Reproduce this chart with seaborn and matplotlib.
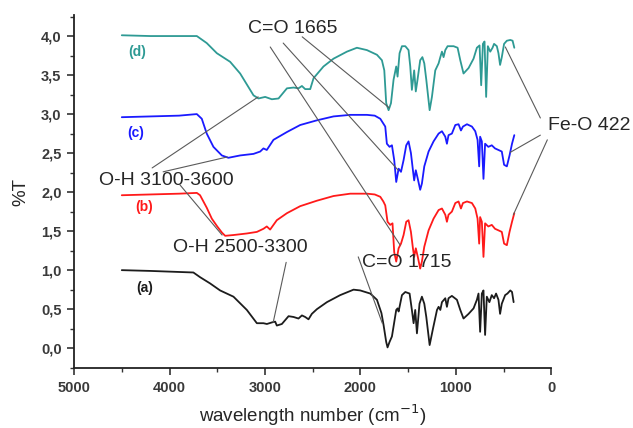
import matplotlib
matplotlib.use("Agg")
import matplotlib.pyplot as plt
import seaborn as sns
from matplotlib.ticker import MultipleLocator, FuncFormatter

# wavenumber / %T values (offset stacked)
wn_a = [4500, 4200, 3750, 3680, 3575, 3470, 3330, 3190, 3085, 3016, 2980, 2928, 2893, 2876, 2823,
        2753, 2701, 2649, 2613, 2579, 2544, 2509, 2456, 2351, 2212, 2072, 2002, 1897, 1827, 1780,
        1758, 1730, 1716, 1695, 1670, 1625, 1611, 1600, 1565, 1530, 1485, 1461, 1443, 1426, 1408,
        1381, 1356, 1331, 1310, 1275, 1240, 1198, 1181, 1163, 1146, 1111, 1094, 1077, 1042, 989,
        954, 920, 867, 815, 780, 763, 746, 728, 711, 694, 676, 649, 624, 600, 579, 554, 537, 519,
        484, 460, 430, 412, 395]
t_a = [1.00, 0.99, 0.97, 0.91, 0.83, 0.74, 0.66, 0.49, 0.32, 0.32, 0.31, 0.33, 0.34, 0.29, 0.31,
       0.41, 0.40, 0.38, 0.42, 0.40, 0.37, 0.44, 0.50, 0.59, 0.68, 0.75, 0.74, 0.70, 0.62, 0.45,
       0.30, 0.08, 0.01, 0.08, 0.15, 0.49, 0.51, 0.47, 0.68, 0.72, 0.70, 0.49, 0.32, 0.49, 0.19,
       0.57, 0.66, 0.57, 0.40, 0.04, 0.25, 0.49, 0.53, 0.49, 0.59, 0.64, 0.53, 0.64, 0.67, 0.62,
       0.49, 0.38, 0.44, 0.51, 0.62, 0.70, 0.21, 0.70, 0.74, 0.17, 0.66, 0.59, 0.68, 0.64, 0.70,
       0.62, 0.44, 0.57, 0.68, 0.70, 0.74, 0.72, 0.59]

wn_b = [4500, 4200, 3900, 3714, 3680, 3645, 3610, 3557, 3500, 3450, 3417, 3330, 3190, 3085, 3016,
        2981, 2946, 2876, 2770, 2631, 2456, 2282, 2107, 1932, 1850, 1792, 1760, 1740, 1716, 1688,
        1664, 1646, 1625, 1600, 1575, 1548, 1520, 1496, 1471, 1450, 1437, 1420, 1399, 1374, 1356,
        1331, 1286, 1234, 1181, 1146, 1111, 1094, 1077, 1042, 1006, 972, 947, 926, 884, 832, 797,
        773, 756, 746, 728, 711, 694, 660, 624, 590, 554, 519, 495, 466, 438, 412, 388]
t_b = [1.96, 1.97, 1.98, 1.99, 1.96, 1.88, 1.80, 1.66, 1.56, 1.48, 1.44, 1.45, 1.47, 1.49, 1.53,
       1.56, 1.52, 1.64, 1.73, 1.82, 1.89, 1.95, 1.98, 1.98, 1.97, 1.94, 1.88, 1.83, 1.62, 1.58,
       1.60, 1.23, 1.11, 1.28, 1.34, 1.45, 1.62, 1.64, 1.49, 1.28, 1.17, 1.28, 1.17, 1.02, 1.11,
       1.30, 1.51, 1.66, 1.77, 1.79, 1.71, 1.62, 1.71, 1.75, 1.86, 1.88, 1.79, 1.86, 1.88, 1.86, 1.79,
       1.66, 1.34, 1.68, 1.62, 1.17, 1.60, 1.56, 1.58, 1.53, 1.51, 1.49, 1.34, 1.32, 1.49, 1.62, 1.73]

wn_c = [4500, 4200, 3900, 3714, 3662, 3610, 3540, 3452, 3383, 3260, 3120, 3050, 3016, 2981, 2911,
        2770, 2631, 2456, 2282, 2107, 1932, 1850, 1792, 1740, 1723, 1695, 1670, 1646, 1625, 1600,
        1575, 1548, 1520, 1496, 1471, 1450, 1437, 1420, 1399, 1374, 1356, 1331, 1286, 1234, 1181,
        1146, 1111, 1094, 1077, 1042, 1006, 972, 947, 926, 884, 832, 797, 773, 756, 746, 728, 711,
        694, 660, 624, 590, 554, 519, 495, 466, 438, 412, 388]
t_c = [2.96, 2.97, 2.98, 3.00, 2.94, 2.75, 2.58, 2.47, 2.44, 2.47, 2.49, 2.52, 2.56, 2.54, 2.67,
       2.77, 2.86, 2.92, 2.97, 2.99, 2.99, 2.98, 2.94, 2.84, 2.62, 2.58, 2.60, 2.41, 2.13, 2.30,
       2.26, 2.41, 2.60, 2.65, 2.50, 2.28, 2.15, 2.28, 2.17, 2.03, 2.11, 2.33, 2.52, 2.65, 2.75,
       2.78, 2.71, 2.62, 2.73, 2.75, 2.86, 2.87, 2.79, 2.84, 2.87, 2.84, 2.78, 2.67, 2.33, 2.71,
       2.65, 2.17, 2.62, 2.58, 2.60, 2.56, 2.54, 2.52, 2.35, 2.33, 2.47, 2.62, 2.73]

wn_d = [4500, 4200, 3900, 3714, 3610, 3504, 3365, 3260, 3120, 3068, 2998, 2928, 2858, 2770, 2701,
        2649, 2613, 2579, 2526, 2491, 2387, 2282, 2142, 2037, 1932, 1827, 1775, 1750, 1730, 1705,
        1680, 1653, 1625, 1611, 1590, 1565, 1530, 1496, 1478, 1461, 1437, 1420, 1402, 1374, 1351,
        1331, 1310, 1275, 1251, 1216, 1181, 1163, 1146, 1129, 1111, 1087, 1024, 982, 954, 920, 867,
        815, 780, 752, 735, 717, 700, 683, 665, 640, 616, 600, 571, 554, 537, 519, 495, 466, 430,
        406, 388]
t_d = [4.01, 4.00, 4.00, 4.00, 3.91, 3.78, 3.67, 3.52, 3.24, 3.20, 3.22, 3.19, 3.20, 3.33, 3.34,
       3.33, 3.36, 3.32, 3.32, 3.46, 3.61, 3.71, 3.80, 3.85, 3.82, 3.76, 3.69, 3.56, 3.14, 3.05,
       3.14, 3.44, 3.61, 3.48, 3.78, 3.87, 3.87, 3.82, 3.61, 3.31, 3.56, 3.29, 3.44, 3.69, 3.73,
       3.65, 3.44, 3.05, 3.22, 3.56, 3.65, 3.73, 3.80, 3.73, 3.82, 3.87, 3.87, 3.85, 3.69, 3.52, 3.59,
       3.71, 3.85, 3.88, 3.37, 3.90, 3.93, 3.22, 3.87, 3.80, 3.85, 3.90, 3.87, 3.78, 3.63, 3.73,
       3.90, 3.94, 3.95, 3.94, 3.85]

curve_labels = ["(a)", "(b)", "(c)", "(d)"]
curve_colors = ["#1c1c1c", "#ff1a1a", "#1a1aff", "#2e9a94"]

sns.set_style("ticks")
plt.rcParams["font.family"] = ["Liberation Sans", "DejaVu Sans"]

fig = plt.figure(figsize=(6.33, 4.28), dpi=100)
ax = fig.add_axes([0.117, 0.140, 0.754, 0.825])

for wn, t, col in zip([wn_a, wn_b, wn_c, wn_d], [t_a, t_b, t_c, t_d], curve_colors):
    sns.lineplot(x=wn, y=t, color=col, lw=1.3, sort=False, estimator=None, ax=ax)

# curve tags
tag_pos = [(4256, 0.77), (4266, 1.81), (4350, 2.76), (4340, 3.79)]
for (x, y), lab, col in zip(tag_pos, curve_labels, curve_colors):
    ax.text(x, y, lab, color=col, fontsize=10, fontweight="bold", ha="center", va="center")

# band annotations with leader lines
lc = "#5a5a5a"
ax.text(3176, 4.10, "C=O 1665", fontsize=14, ha="left", va="center")
for x0, y0, x1, y1 in [(2610, 3.99, 1698, 3.08), (2809, 3.91, 1604, 2.28), (2945, 3.86, 1583, 1.32)]:
    ax.plot([x0, x1], [y0, y1], color=lc, lw=0.8)

ax.text(4738, 2.15, "O-H 3100-3600", fontsize=14, ha="left", va="center")
for x0, y0, x1, y1 in [(4182, 2.31, 3071, 3.22), (4067, 2.26, 3396, 2.45), (3889, 2.09, 3449, 1.45)]:
    ax.plot([x0, x1], [y0, y1], color=lc, lw=0.8)

ax.text(3962, 1.29, "O-H 2500-3300", fontsize=14, ha="left", va="center")
ax.plot([2778, 2914], [1.10, 0.33], color=lc, lw=0.8)

ax.text(1981, 1.10, "C=O 1715", fontsize=14, ha="left", va="center")
ax.plot([2023, 1771], [1.17, 0.32], color=lc, lw=0.8)

ax.text(31, 2.86, "Fe-O 422", fontsize=14, ha="left", va="center", clip_on=False)
for x0, y0, x1, y1 in [(115, 2.95, 482, 3.86), (115, 2.73, 430, 2.51), (42, 2.67, 398, 1.71)]:
    ax.plot([x0, x1], [y0, y1], color=lc, lw=0.8, clip_on=False)

ax.set_xlim(5000, 0)
ax.set_ylim(-0.255, 4.27)
ax.xaxis.set_major_locator(MultipleLocator(1000))
ax.xaxis.set_minor_locator(MultipleLocator(500))
ax.yaxis.set_major_locator(MultipleLocator(0.5))
ax.yaxis.set_minor_locator(MultipleLocator(0.25))
ax.yaxis.set_major_formatter(FuncFormatter(lambda v, p: f"{v:.1f}".replace(".", ",")))
ax.tick_params(which="major", length=5, width=1.2, labelsize=10.5, direction="out", pad=4,
               labelcolor="#3a3a3a", color="#333333")
ax.tick_params(which="minor", length=3, width=1.0, direction="out", color="#333333")
for lab in ax.get_xticklabels() + ax.get_yticklabels():
    lab.set_fontweight("bold")
sns.despine(ax=ax)
for s in ["left", "bottom"]:
    ax.spines[s].set_linewidth(1.3)
    ax.spines[s].set_color("#222222")

ax.set_xlabel("wavelength number (cm$^{-1}$)", fontsize=13.5, labelpad=6)
ax.set_ylabel("%T", fontsize=13.5, labelpad=8)

fig.savefig("out.png", dpi=100)
plt.close(fig)
